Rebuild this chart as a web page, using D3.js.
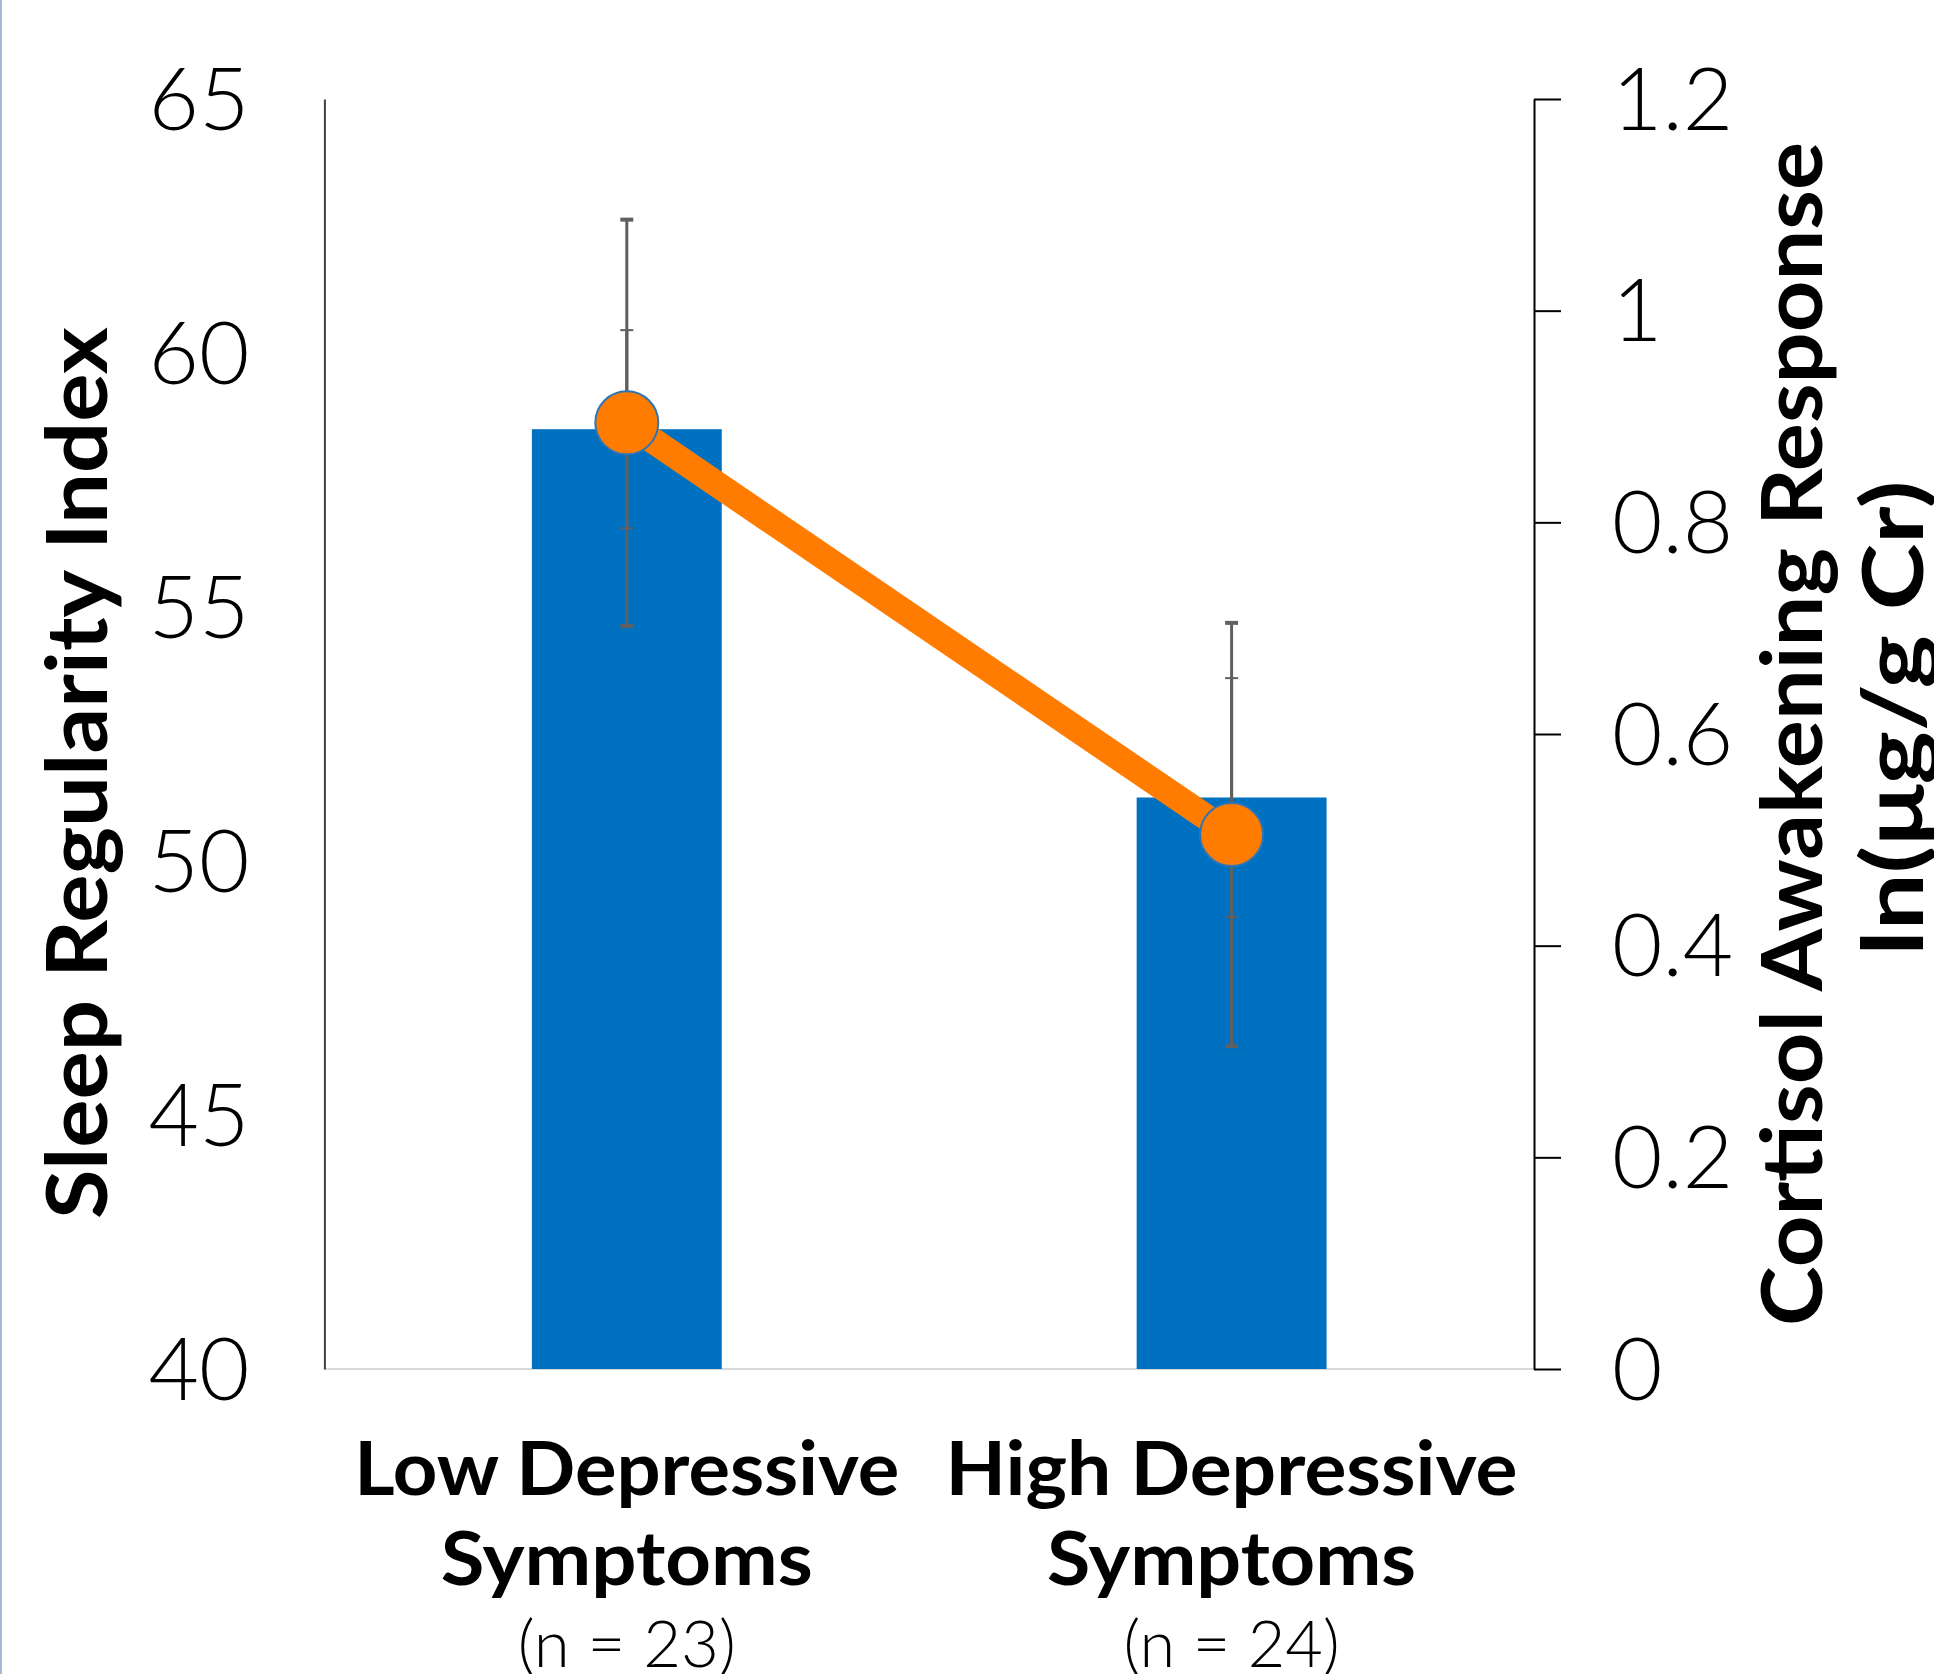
<!DOCTYPE html>
<html>
<head>
<meta charset="utf-8">
<script src="https://cdn.jsdelivr.net/npm/d3@7"></script>
<style>
  html, body { margin: 0; padding: 0; background: #ffffff; }
  svg { display: block; }
</style>
</head>
<body>
<div id="chart"></div>
<script>
// ---- Data ----
const categories = ["Low Depressive Symptoms", "High Depressive Symptoms"];
const labelLine1 = ["Low Depressive", "High Depressive"];
const labelLine2 = ["Symptoms", "Symptoms"];
const sampleSizes = ["(n = 23)", "(n = 24)"];
const sriMeans = [58.5, 51.25];      // Sleep Regularity Index (bars, left axis)
const sriErrors = [1.95, 2.35];
const carMeans = [0.894, 0.505];     // Cortisol Awakening Response (line, right axis)
const carErrors = [0.192, 0.200];
const leftTicks = [40, 45, 50, 55, 60, 65];
const rightTicks = [0, 0.2, 0.4, 0.6, 0.8, 1, 1.2];
const leftTitle = "Sleep Regularity Index";
const rightTitle1 = "Cortisol Awakening Response";
const rightTitle2 = "ln(μg/g Cr)";

// ---- Layout ----
const W = 1934, H = 1674;
const plotLeft = 324.4, plotRight = 1534, plotTop = 99, plotBottom = 1369;
const FONT = "Lato, 'Open Sans', 'DejaVu Sans', sans-serif";

const svg = d3.select("#chart").append("svg")
  .attr("width", W).attr("height", H)
  .attr("viewBox", `0 0 ${W} ${H}`);

svg.append("rect").attr("x", 0).attr("y", 0).attr("width", W).attr("height", H).attr("fill", "#fff");
// thin left border of the original image
svg.append("rect").attr("x", 0).attr("y", 0).attr("width", 2).attr("height", H).attr("fill", "#a8b7d6");

const x = d3.scaleBand().domain(categories).range([plotLeft, plotRight]).padding(0);
const yL = d3.scaleLinear().domain([40, 65]).range([plotBottom, plotTop]);
const yR = d3.scaleLinear().domain([0, 1.2]).range([plotBottom, plotTop]);
const barW = x.bandwidth() * 0.314;
const cx = c => x(c) + x.bandwidth() / 2;

// baseline (light grey)
svg.append("line")
  .attr("x1", plotLeft).attr("x2", plotRight)
  .attr("y1", yL(40)).attr("y2", yL(40))
  .attr("stroke", "#d9d9d9").attr("stroke-width", 2);

// bars
svg.append("g").selectAll("rect").data(categories).join("rect")
  .attr("x", d => cx(d) - barW / 2)
  .attr("y", (d, i) => yL(sriMeans[i]))
  .attr("width", barW)
  .attr("height", (d, i) => yL(40) - yL(sriMeans[i]))
  .attr("fill", "#0070C0");

// left axis
const gL = svg.append("g").attr("transform", `translate(${plotLeft},0)`)
  .call(d3.axisLeft(yL).tickValues(leftTicks).tickSize(0).tickSizeOuter(0).tickPadding(75).tickFormat(d3.format("d")));
gL.select(".domain").attr("stroke", "#404040").attr("stroke-width", 2);
gL.selectAll("text")
  .attr("font-family", FONT).attr("font-weight", 300).attr("font-size", 87)
  .attr("fill", "#000").attr("dy", "0.345em");

// right axis
const gR = svg.append("g").attr("transform", `translate(${plotRight},0)`)
  .call(d3.axisRight(yR).tickValues(rightTicks).tickSize(27).tickSizeOuter(0).tickPadding(51).tickFormat(d3.format("~g")));
gR.select(".domain").attr("stroke", "#000").attr("stroke-width", 2);
gR.selectAll(".tick line").attr("stroke", "#000").attr("stroke-width", 2);
gR.selectAll("text")
  .attr("font-family", FONT).attr("font-weight", 300).attr("font-size", 87)
  .attr("fill", "#000").attr("dy", "0.345em");

// error bars helper
function errorBar(g, xc, yTop, yBot, capStroke, capW) {
  g.append("line").attr("x1", xc).attr("x2", xc).attr("y1", yTop).attr("y2", yBot)
    .attr("stroke", "#606060").attr("stroke-width", 3);
  [yTop, yBot].forEach(yy => {
    g.append("line").attr("x1", xc - capW / 2).attr("x2", xc + capW / 2).attr("y1", yy).attr("y2", yy)
      .attr("stroke", "#606060").attr("stroke-width", capStroke);
  });
}
const gErr = svg.append("g");
categories.forEach((c, i) => {
  errorBar(gErr, cx(c), yL(sriMeans[i] + sriErrors[i]), yL(sriMeans[i] - sriErrors[i]), 2, 13);
  errorBar(gErr, cx(c), yR(carMeans[i] + carErrors[i]), yR(carMeans[i] - carErrors[i]), 4, 13);
});

// line
const lineGen = d3.line().x((d, i) => cx(categories[i])).y(d => yR(d));
svg.append("path").datum(carMeans)
  .attr("d", lineGen)
  .attr("fill", "none").attr("stroke", "#FF7C00").attr("stroke-width", 26);

// markers
svg.append("g").selectAll("circle").data(carMeans).join("circle")
  .attr("cx", (d, i) => cx(categories[i]))
  .attr("cy", d => yR(d))
  .attr("r", 31.5)
  .attr("fill", "#FF7C00").attr("stroke", "#2E75B6").attr("stroke-width", 2);

// category labels
const line1Widths = [545, 572], line2Widths = [372, 369], nWidths = [218, 216];
const gX = svg.append("g");
categories.forEach((c, i) => {
  gX.append("text").attr("x", cx(c)).attr("y", 1495).attr("text-anchor", "middle")
    .attr("font-family", FONT).attr("font-weight", 700).attr("font-size", 74)
    .attr("textLength", line1Widths[i]).attr("lengthAdjust", "spacingAndGlyphs")
    .text(labelLine1[i]);
  gX.append("text").attr("x", cx(c)).attr("y", 1585).attr("text-anchor", "middle")
    .attr("font-family", FONT).attr("font-weight", 700).attr("font-size", 74)
    .attr("textLength", line2Widths[i]).attr("lengthAdjust", "spacingAndGlyphs")
    .text(labelLine2[i]);
  gX.append("text").attr("x", cx(c)).attr("y", 1667).attr("text-anchor", "middle")
    .attr("font-family", FONT).attr("font-weight", 300).attr("font-size", 65)
    .attr("textLength", nWidths[i]).attr("lengthAdjust", "spacingAndGlyphs")
    .text(sampleSizes[i]);
});

// axis titles
svg.append("text").attr("transform", "translate(107,773) rotate(-90)")
  .attr("text-anchor", "middle").attr("font-family", FONT).attr("font-weight", 700).attr("font-size", 84)
  .attr("textLength", 892).attr("lengthAdjust", "spacingAndGlyphs")
  .text(leftTitle);
svg.append("text").attr("transform", "translate(1822,734) rotate(-90)")
  .attr("text-anchor", "middle").attr("font-family", FONT).attr("font-weight", 700).attr("font-size", 84)
  .attr("textLength", 1184).attr("lengthAdjust", "spacingAndGlyphs")
  .text(rightTitle1);
svg.append("text").attr("transform", "translate(1923,718) rotate(-90)")
  .attr("text-anchor", "middle").attr("font-family", FONT).attr("font-weight", 700).attr("font-size", 84)
  .attr("textLength", 475).attr("lengthAdjust", "spacingAndGlyphs")
  .text(rightTitle2);
</script>
</body>
</html>
